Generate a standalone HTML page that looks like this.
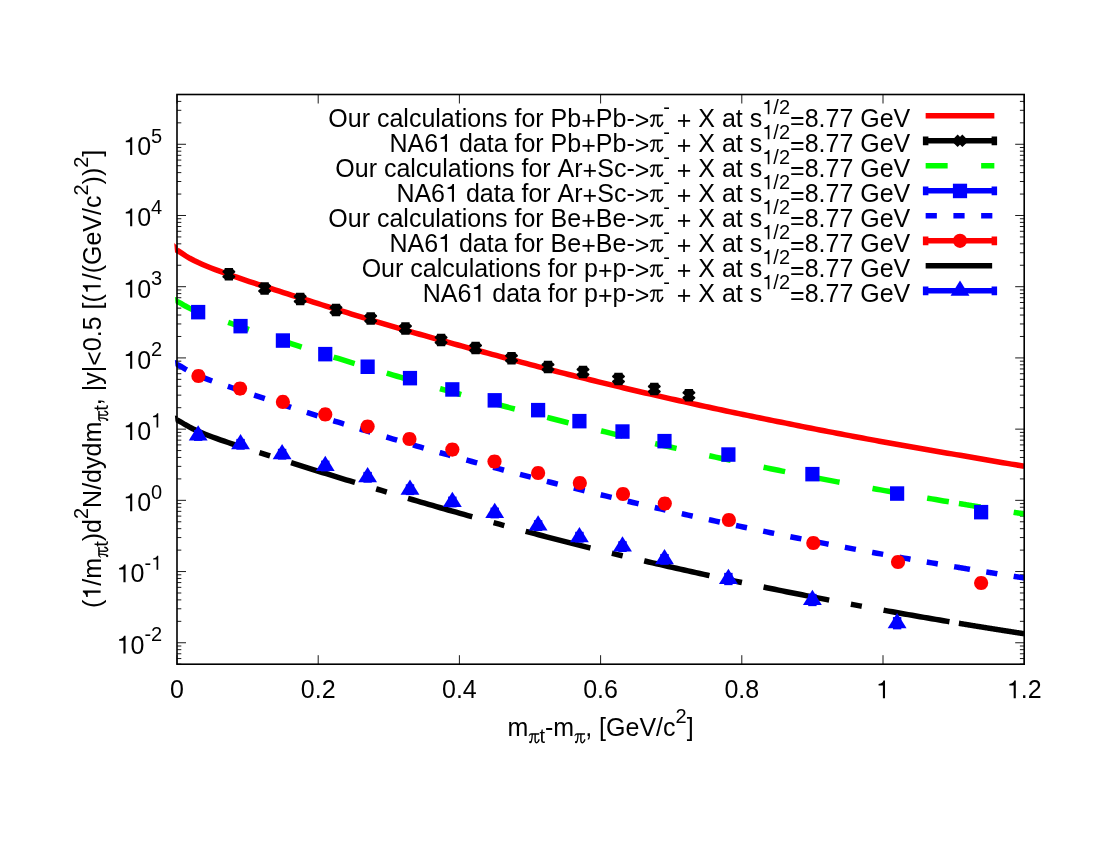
<!DOCTYPE html>
<html><head><meta charset="utf-8"><title>plot</title>
<style>html,body{margin:0;padding:0;background:#fff}svg{display:block;will-change:transform}text{font-kerning:none;font-family:"Liberation Sans",sans-serif;fill:#000}.sy{font-family:"Liberation Serif",serif}</style></head><body>
<svg width="1100" height="850" viewBox="0 0 1100 850">
<rect width="1100" height="850" fill="#fff"/>
<path d="M177.00,664.2V655.2M177.00,94.5V103.5M318.20,664.2V655.2M318.20,94.5V103.5M459.40,664.2V655.2M459.40,94.5V103.5M600.60,664.2V655.2M600.60,94.5V103.5M741.80,664.2V655.2M741.80,94.5V103.5M883.00,664.2V655.2M883.00,94.5V103.5M1024.20,664.2V655.2M1024.20,94.5V103.5M177.0,664.20H181.3M1024.2,664.20H1019.9000000000001M177.0,658.56H181.3M1024.2,658.56H1019.9000000000001M177.0,653.79H181.3M1024.2,653.79H1019.9000000000001M177.0,649.66H181.3M1024.2,649.66H1019.9000000000001M177.0,646.02H181.3M1024.2,646.02H1019.9000000000001M177.0,642.76H186.0M1024.2,642.76H1015.2M177.0,621.33H181.3M1024.2,621.33H1019.9000000000001M177.0,608.79H181.3M1024.2,608.79H1019.9000000000001M177.0,599.89H181.3M1024.2,599.89H1019.9000000000001M177.0,592.99H181.3M1024.2,592.99H1019.9000000000001M177.0,587.35H181.3M1024.2,587.35H1019.9000000000001M177.0,582.58H181.3M1024.2,582.58H1019.9000000000001M177.0,578.45H181.3M1024.2,578.45H1019.9000000000001M177.0,574.81H181.3M1024.2,574.81H1019.9000000000001M177.0,571.55H186.0M1024.2,571.55H1015.2M177.0,550.11H181.3M1024.2,550.11H1019.9000000000001M177.0,537.57H181.3M1024.2,537.57H1019.9000000000001M177.0,528.68H181.3M1024.2,528.68H1019.9000000000001M177.0,521.78H181.3M1024.2,521.78H1019.9000000000001M177.0,516.14H181.3M1024.2,516.14H1019.9000000000001M177.0,511.37H181.3M1024.2,511.37H1019.9000000000001M177.0,507.24H181.3M1024.2,507.24H1019.9000000000001M177.0,503.60H181.3M1024.2,503.60H1019.9000000000001M177.0,500.34H186.0M1024.2,500.34H1015.2M177.0,478.90H181.3M1024.2,478.90H1019.9000000000001M177.0,466.36H181.3M1024.2,466.36H1019.9000000000001M177.0,457.46H181.3M1024.2,457.46H1019.9000000000001M177.0,450.56H181.3M1024.2,450.56H1019.9000000000001M177.0,444.92H181.3M1024.2,444.92H1019.9000000000001M177.0,440.16H181.3M1024.2,440.16H1019.9000000000001M177.0,436.03H181.3M1024.2,436.03H1019.9000000000001M177.0,432.38H181.3M1024.2,432.38H1019.9000000000001M177.0,429.13H186.0M1024.2,429.13H1015.2M177.0,407.69H181.3M1024.2,407.69H1019.9000000000001M177.0,395.15H181.3M1024.2,395.15H1019.9000000000001M177.0,386.25H181.3M1024.2,386.25H1019.9000000000001M177.0,379.35H181.3M1024.2,379.35H1019.9000000000001M177.0,373.71H181.3M1024.2,373.71H1019.9000000000001M177.0,368.94H181.3M1024.2,368.94H1019.9000000000001M177.0,364.81H181.3M1024.2,364.81H1019.9000000000001M177.0,361.17H181.3M1024.2,361.17H1019.9000000000001M177.0,357.91H186.0M1024.2,357.91H1015.2M177.0,336.48H181.3M1024.2,336.48H1019.9000000000001M177.0,323.94H181.3M1024.2,323.94H1019.9000000000001M177.0,315.04H181.3M1024.2,315.04H1019.9000000000001M177.0,308.14H181.3M1024.2,308.14H1019.9000000000001M177.0,302.50H181.3M1024.2,302.50H1019.9000000000001M177.0,297.73H181.3M1024.2,297.73H1019.9000000000001M177.0,293.60H181.3M1024.2,293.60H1019.9000000000001M177.0,289.96H181.3M1024.2,289.96H1019.9000000000001M177.0,286.70H186.0M1024.2,286.70H1015.2M177.0,265.26H181.3M1024.2,265.26H1019.9000000000001M177.0,252.72H181.3M1024.2,252.72H1019.9000000000001M177.0,243.83H181.3M1024.2,243.83H1019.9000000000001M177.0,236.93H181.3M1024.2,236.93H1019.9000000000001M177.0,231.29H181.3M1024.2,231.29H1019.9000000000001M177.0,226.52H181.3M1024.2,226.52H1019.9000000000001M177.0,222.39H181.3M1024.2,222.39H1019.9000000000001M177.0,218.75H181.3M1024.2,218.75H1019.9000000000001M177.0,215.49H186.0M1024.2,215.49H1015.2M177.0,194.05H181.3M1024.2,194.05H1019.9000000000001M177.0,181.51H181.3M1024.2,181.51H1019.9000000000001M177.0,172.61H181.3M1024.2,172.61H1019.9000000000001M177.0,165.71H181.3M1024.2,165.71H1019.9000000000001M177.0,160.07H181.3M1024.2,160.07H1019.9000000000001M177.0,155.31H181.3M1024.2,155.31H1019.9000000000001M177.0,151.18H181.3M1024.2,151.18H1019.9000000000001M177.0,147.53H181.3M1024.2,147.53H1019.9000000000001M177.0,144.28H186.0M1024.2,144.28H1015.2M177.0,122.84H181.3M1024.2,122.84H1019.9000000000001M177.0,110.30H181.3M1024.2,110.30H1019.9000000000001M177.0,101.40H181.3M1024.2,101.40H1019.9000000000001M177.0,94.50H181.3M1024.2,94.50H1019.9000000000001" stroke="#000" stroke-width="0.9" fill="none"/>
<path d="M174.2,242.96L177.5,245.96L177.5,253.96L175.0,252.36Z" fill="#f00"/>
<path d="M177.00,250.16 L181.26,252.93 L185.51,255.77 L189.77,258.27 L194.03,260.51 L198.29,262.55 L202.54,264.45 L206.80,266.25 L211.06,267.96 L215.32,269.60 L219.57,271.19 L223.83,272.74 L228.09,274.25 L232.34,275.74 L236.60,277.21 L240.86,278.66 L245.12,280.09 L249.37,281.52 L253.63,282.93 L257.89,284.33 L262.15,285.72 L266.40,287.11 L270.66,288.49 L274.92,289.86 L279.17,291.23 L283.43,292.60 L287.69,293.96 L291.95,295.32 L296.20,296.68 L300.46,298.03 L304.72,299.38 L308.98,300.72 L313.23,302.07 L317.49,303.41 L321.75,304.75 L326.01,306.08 L330.26,307.42 L334.52,308.74 L338.78,310.07 L343.03,311.39 L347.29,312.70 L351.55,314.01 L355.81,315.32 L360.06,316.62 L364.32,317.92 L368.58,319.22 L372.84,320.51 L377.09,321.79 L381.35,323.07 L385.61,324.35 L389.86,325.62 L394.12,326.87 L398.38,328.11 L402.64,329.34 L406.89,330.57 L411.15,331.80 L415.41,333.02 L419.67,334.24 L423.92,335.45 L428.18,336.66 L432.44,337.86 L436.69,339.06 L440.95,340.26 L445.21,341.45 L449.47,342.63 L453.72,343.81 L457.98,344.99 L462.24,346.16 L466.50,347.33 L470.75,348.50 L475.01,349.66 L479.27,350.81 L483.52,351.98 L487.78,353.15 L492.04,354.31 L496.30,355.47 L500.55,356.62 L504.81,357.77 L509.07,358.92 L513.33,360.06 L517.58,361.20 L521.84,362.33 L526.10,363.46 L530.35,364.58 L534.61,365.70 L538.87,366.81 L543.13,367.92 L547.38,369.03 L551.64,370.13 L555.90,371.23 L560.16,372.32 L564.41,373.39 L568.67,374.46 L572.93,375.52 L577.18,376.58 L581.44,377.64 L585.70,378.69 L589.96,379.74 L594.21,380.78 L598.47,381.82 L602.73,382.85 L606.99,383.88 L611.24,384.91 L615.50,385.93 L619.76,386.94 L624.02,387.96 L628.27,388.96 L632.53,389.97 L636.79,390.97 L641.04,391.96 L645.30,392.95 L649.56,393.94 L653.82,394.92 L658.07,395.90 L662.33,396.88 L666.59,397.85 L670.85,398.81 L675.10,399.78 L679.36,400.73 L683.62,401.69 L687.87,402.64 L692.13,403.58 L696.39,404.53 L700.65,405.46 L704.90,406.38 L709.16,407.30 L713.42,408.22 L717.68,409.13 L721.93,410.03 L726.19,410.94 L730.45,411.84 L734.70,412.73 L738.96,413.62 L743.22,414.51 L747.48,415.39 L751.73,416.27 L755.99,417.14 L760.25,418.01 L764.51,418.88 L768.76,419.74 L773.02,420.60 L777.28,421.46 L781.53,422.31 L785.79,423.18 L790.05,424.03 L794.31,424.89 L798.56,425.74 L802.82,426.59 L807.08,427.43 L811.34,428.27 L815.59,429.11 L819.85,429.94 L824.11,430.77 L828.36,431.59 L832.62,432.41 L836.88,433.23 L841.14,434.04 L845.39,434.85 L849.65,435.66 L853.91,436.46 L858.17,437.26 L862.42,438.05 L866.68,438.84 L870.94,439.63 L875.19,440.41 L879.45,441.19 L883.71,441.97 L887.97,442.74 L892.22,443.51 L896.48,444.27 L900.74,445.03 L905.00,445.79 L909.25,446.55 L913.51,447.30 L917.77,448.04 L922.03,448.79 L926.28,449.53 L930.54,450.27 L934.80,451.00 L939.05,451.73 L943.31,452.45 L947.57,453.18 L951.83,453.90 L956.08,454.61 L960.34,455.33 L964.60,456.08 L968.86,456.83 L973.11,457.57 L977.37,458.31 L981.63,459.05 L985.88,459.78 L990.14,460.51 L994.40,461.24 L998.66,461.96 L1002.91,462.68 L1007.17,463.40 L1011.43,464.11 L1015.69,464.82 L1019.94,465.53 L1024.20,466.23" fill="none" stroke="#f00" stroke-width="5.5"/>
<path d="M232.95,267.90L233.15,269.25L235.25,271.15L235.25,272.25L232.85,274.15L235.25,276.05L235.25,277.15L233.15,279.05L232.95,280.40L224.75,280.40L224.55,279.05L222.45,277.15L222.45,276.05L224.85,274.15L222.45,272.25L222.45,271.15L224.55,269.25L224.75,267.90Z" fill="#000"/>
<path d="M268.70,282.25L268.90,283.60L271.00,285.50L271.00,286.60L268.60,288.50L271.00,290.40L271.00,291.50L268.90,293.40L268.70,294.75L260.50,294.75L260.30,293.40L258.20,291.50L258.20,290.40L260.60,288.50L258.20,286.60L258.20,285.50L260.30,283.60L260.50,282.25Z" fill="#000"/>
<path d="M304.30,292.65L304.50,294.00L306.60,295.90L306.60,297.00L304.20,298.90L306.60,300.80L306.60,301.90L304.50,303.80L304.30,305.15L296.10,305.15L295.90,303.80L293.80,301.90L293.80,300.80L296.20,298.90L293.80,297.00L293.80,295.90L295.90,294.00L296.10,292.65Z" fill="#000"/>
<path d="M340.10,303.75L340.30,305.10L342.40,307.00L342.40,308.10L340.00,310.00L342.40,311.90L342.40,313.00L340.30,314.90L340.10,316.25L331.90,316.25L331.70,314.90L329.60,313.00L329.60,311.90L332.00,310.00L329.60,308.10L329.60,307.00L331.70,305.10L331.90,303.75Z" fill="#000"/>
<path d="M374.80,312.25L375.00,313.60L377.10,315.50L377.10,316.60L374.70,318.50L377.10,320.40L377.10,321.50L375.00,323.40L374.80,324.75L366.60,324.75L366.40,323.40L364.30,321.50L364.30,320.40L366.70,318.50L364.30,316.60L364.30,315.50L366.40,313.60L366.60,312.25Z" fill="#000"/>
<path d="M409.55,322.35L409.75,323.70L411.85,325.60L411.85,326.70L409.45,328.60L411.85,330.50L411.85,331.60L409.75,333.50L409.55,334.85L401.35,334.85L401.15,333.50L399.05,331.60L399.05,330.50L401.45,328.60L399.05,326.70L399.05,325.60L401.15,323.70L401.35,322.35Z" fill="#000"/>
<path d="M445.20,333.75L445.40,335.10L447.50,337.00L447.50,338.10L445.10,340.00L447.50,341.90L447.50,343.00L445.40,344.90L445.20,346.25L437.00,346.25L436.80,344.90L434.70,343.00L434.70,341.90L437.10,340.00L434.70,338.10L434.70,337.00L436.80,335.10L437.00,333.75Z" fill="#000"/>
<path d="M479.70,341.75L479.90,343.10L482.00,345.00L482.00,346.10L479.60,348.00L482.00,349.90L482.00,351.00L479.90,352.90L479.70,354.25L471.50,354.25L471.30,352.90L469.20,351.00L469.20,349.90L471.60,348.00L469.20,346.10L469.20,345.00L471.30,343.10L471.50,341.75Z" fill="#000"/>
<path d="M515.60,351.95L515.80,353.30L517.90,355.20L517.90,356.30L515.50,358.20L517.90,360.10L517.90,361.20L515.80,363.10L515.60,364.45L507.40,364.45L507.20,363.10L505.10,361.20L505.10,360.10L507.50,358.20L505.10,356.30L505.10,355.20L507.20,353.30L507.40,351.95Z" fill="#000"/>
<path d="M552.10,360.85L552.30,362.20L554.40,364.10L554.40,365.20L552.00,367.10L554.40,369.00L554.40,370.10L552.30,372.00L552.10,373.35L543.90,373.35L543.70,372.00L541.60,370.10L541.60,369.00L544.00,367.10L541.60,365.20L541.60,364.10L543.70,362.20L543.90,360.85Z" fill="#000"/>
<path d="M587.10,365.75L587.30,367.10L589.40,369.00L589.40,370.10L587.00,372.00L589.40,373.90L589.40,375.00L587.30,376.90L587.10,378.25L578.90,378.25L578.70,376.90L576.60,375.00L576.60,373.90L579.00,372.00L576.60,370.10L576.60,369.00L578.70,367.10L578.90,365.75Z" fill="#000"/>
<path d="M622.60,372.75L622.80,374.10L624.90,376.00L624.90,377.10L622.50,379.00L624.90,380.90L624.90,382.00L622.80,383.90L622.60,385.25L614.40,385.25L614.20,383.90L612.10,382.00L612.10,380.90L614.50,379.00L612.10,377.10L612.10,376.00L614.20,374.10L614.40,372.75Z" fill="#000"/>
<path d="M658.40,382.75L658.60,384.10L660.70,386.00L660.70,387.10L658.30,389.00L660.70,390.90L660.70,392.00L658.60,393.90L658.40,395.25L650.20,395.25L650.00,393.90L647.90,392.00L647.90,390.90L650.30,389.00L647.90,387.10L647.90,386.00L650.00,384.10L650.20,382.75Z" fill="#000"/>
<path d="M693.00,389.00L693.20,390.35L695.30,392.25L695.30,393.35L692.90,395.25L695.30,397.15L695.30,398.25L693.20,400.15L693.00,401.50L684.80,401.50L684.60,400.15L682.50,398.25L682.50,397.15L684.90,395.25L682.50,393.35L682.50,392.25L684.60,390.35L684.80,389.00Z" fill="#000"/>
<path d="M174.9,297.06L177.5,297.76L177.5,304.76L175.5,302.96Z" fill="#0f0"/>
<path d="M177.00,301.36 L180.93,303.42 L184.86,305.78 L188.79,307.93 L192.72,309.84 L196.66,311.45 L200.59,312.94 L204.52,314.31 L208.45,315.77 L212.38,317.18 L216.31,318.54 L220.24,319.85 L224.17,321.13 L228.11,322.39 L232.04,323.76 L235.97,325.12 L239.90,326.46 L243.83,327.78 L247.76,329.10 L251.69,330.41 L255.62,331.72 L259.55,333.01 L263.49,334.30 L267.42,335.62 L271.35,336.94 L275.28,338.27 L279.21,339.59 L283.14,340.90 L287.07,342.21 L291.00,343.52 L294.93,344.82 L298.87,346.13 L302.80,347.40 L306.73,348.65 L310.66,349.89 L314.59,351.13 L318.52,352.36 L322.45,353.60 L326.38,354.82 L330.32,356.05 L334.25,357.27 L338.18,358.49 L342.11,359.71 L346.04,360.92 L349.97,362.13 L353.90,363.32 L357.83,364.52 L361.76,365.71 L365.70,366.90 L369.63,368.08 L373.56,369.26 L377.49,370.44 L381.42,371.61 L385.35,372.78 L389.28,373.94 L393.21,375.10 L397.14,376.26 L401.08,377.42 L405.01,378.57 L408.94,379.71 L412.87,380.86 L416.80,382.00 L420.73,383.13 L424.66,384.26 L428.59,385.39 L432.53,386.52 L436.46,387.64 L440.39,388.75 L444.32,389.86 L448.25,390.96 L452.18,392.06 L456.11,393.15 L460.04,394.24 L463.97,395.32 L467.91,396.41 L471.84,397.48 L475.77,398.56 L479.70,399.63 L483.63,400.70 L487.56,401.76 L491.49,402.82 L495.42,403.87 L499.35,404.93 L503.29,405.97 L507.22,407.02 L511.15,408.06 L515.08,409.10 L519.01,410.13 L522.94,411.16 L526.87,412.19 L530.80,413.21 L534.74,414.23 L538.67,415.24 L542.60,416.25 L546.53,417.26 L550.46,418.26 L554.39,419.26 L558.32,420.26 L562.25,421.25 L566.18,422.24 L570.12,423.22 L574.05,424.20 L577.98,425.18 L581.91,426.15 L585.84,427.12 L589.77,428.09 L593.70,429.05 L597.63,430.01 L601.56,430.97 L605.50,431.92 L609.43,432.87 L613.36,433.81 L617.29,434.75 L621.22,435.69 L625.15,436.62 L629.08,437.55 L633.01,438.48 L636.95,439.40 L640.88,440.32 L644.81,441.24 L648.74,442.15 L652.67,443.06 L656.60,443.96 L660.53,444.87 L664.46,445.76 L668.39,446.66 L672.33,447.55 L676.26,448.44 L680.19,449.32 L684.12,450.20 L688.05,451.08 L691.98,451.95 L695.91,452.82 L699.84,453.69 L703.77,454.55 L707.71,455.41 L711.64,456.26 L715.57,457.12 L719.50,457.97 L723.43,458.81 L727.36,459.65 L731.29,460.49 L735.22,461.33 L739.16,462.16 L743.09,462.99 L747.02,463.81 L750.95,464.63 L754.88,465.45 L758.81,466.27 L762.74,467.08 L766.67,467.89 L770.60,468.69 L774.54,469.49 L778.47,470.29 L782.40,471.09 L786.33,471.88 L790.26,472.67 L794.19,473.45 L798.12,474.23 L802.05,475.01 L805.98,475.79 L809.92,476.56 L813.85,477.33 L817.78,478.09 L821.71,478.85 L825.64,479.61 L829.57,480.37 L833.50,481.12 L837.43,481.87 L841.37,482.62 L845.30,483.36 L849.23,484.10 L853.16,484.83 L857.09,485.57 L861.02,486.30 L864.95,487.03 L868.88,487.75 L872.81,488.47 L876.75,489.19 L880.68,489.90 L884.61,490.61 L888.54,491.32 L892.47,492.03 L896.40,492.73 L900.33,493.43 L904.26,494.12 L908.19,494.82 L912.13,495.51 L916.06,496.19 L919.99,496.88 L923.92,497.56 L927.85,498.24 L931.78,498.91 L935.71,499.58 L939.64,500.25 L943.58,500.92 L947.51,501.58 L951.44,502.24 L955.37,502.90 L959.30,503.55" fill="none" stroke="#0f0" stroke-width="5.5" stroke-dasharray="22 33.5"/>
<path d="M958.90,503.49 L959.23,503.54 L959.56,503.59 L959.88,503.65 L960.21,503.70 L960.54,503.76 L960.87,503.81 L961.20,503.87 L961.53,503.92 L961.85,503.97 L962.18,504.03 L962.51,504.08 L962.84,504.14 L963.17,504.19 L963.49,504.25 L963.82,504.30 L964.15,504.35 L964.48,504.41 L964.81,504.46 L965.13,504.52 L965.46,504.57 L965.79,504.63 L966.12,504.68 L966.45,504.73 L966.78,504.79 L967.10,504.84 L967.43,504.90 L967.76,504.95 L968.09,505.00 L968.42,505.06 L968.74,505.11 L969.07,505.16 L969.40,505.22 L969.73,505.27 L970.06,505.33 L970.38,505.38 L970.71,505.43 L971.04,505.49 L971.37,505.54 L971.70,505.60 L972.03,505.65 L972.35,505.70 L972.68,505.76 L973.01,505.81 L973.34,505.86 L973.67,505.92 L973.99,505.97 L974.32,506.02 L974.65,506.08 L974.98,506.13 L975.31,506.18 L975.64,506.24 L975.96,506.29 L976.29,506.35 L976.62,506.40 L976.95,506.45 L977.28,506.51 L977.60,506.56 L977.93,506.61 L978.26,506.67 L978.59,506.72 L978.92,506.77 L979.24,506.83 L979.57,506.88 L979.90,506.93 L980.23,506.98 L980.56,507.04 L980.89,507.09 L981.21,507.14 L981.54,507.20 L981.87,507.25 L982.20,507.30 L982.53,507.36 L982.85,507.41 L983.18,507.46 L983.51,507.52 L983.84,507.57 L984.17,507.62 L984.49,507.67 L984.82,507.73 L985.15,507.78 L985.48,507.83 L985.81,507.89 L986.14,507.94 L986.46,507.99 L986.79,508.04 L987.12,508.10 L987.45,508.15 L987.78,508.20 L988.10,508.26 L988.43,508.31 L988.76,508.36 L989.09,508.41 L989.42,508.47 L989.75,508.52 L990.07,508.57 L990.40,508.62 L990.73,508.68 L991.06,508.73 L991.39,508.78 L991.71,508.83 L992.04,508.89 L992.37,508.94 L992.70,508.99 L993.03,509.04 L993.35,509.10 L993.68,509.15 L994.01,509.20 L994.34,509.25 L994.67,509.31 L995.00,509.36 L995.32,509.41 L995.65,509.46 L995.98,509.51 L996.31,509.57 L996.64,509.62 L996.96,509.67 L997.29,509.72 L997.62,509.78 L997.95,509.83 L998.28,509.88 L998.61,509.93 L998.93,509.98 L999.26,510.04 L999.59,510.09 L999.92,510.14 L1000.25,510.19 L1000.57,510.24 L1000.90,510.30 L1001.23,510.35 L1001.56,510.40 L1001.89,510.45 L1002.21,510.50 L1002.54,510.56 L1002.87,510.61 L1003.20,510.66 L1003.53,510.71 L1003.86,510.76 L1004.18,510.81 L1004.51,510.87 L1004.84,510.92 L1005.17,510.97 L1005.50,511.02 L1005.82,511.07 L1006.15,511.12 L1006.48,511.18 L1006.81,511.23 L1007.14,511.28 L1007.46,511.33 L1007.79,511.38 L1008.12,511.43 L1008.45,511.48 L1008.78,511.54 L1009.11,511.59 L1009.43,511.64 L1009.76,511.69 L1010.09,511.74 L1010.42,511.79 L1010.75,511.84 L1011.07,511.90 L1011.40,511.95 L1011.73,512.00 L1012.06,512.05 L1012.39,512.10 L1012.72,512.15 L1013.04,512.20 L1013.37,512.25 L1013.70,512.31 L1014.03,512.36 L1014.36,512.41 L1014.68,512.46 L1015.01,512.51 L1015.34,512.56 L1015.67,512.61 L1016.00,512.66 L1016.32,512.71 L1016.65,512.77 L1016.98,512.82 L1017.31,512.87 L1017.64,512.92 L1017.97,512.97 L1018.29,513.02 L1018.62,513.07 L1018.95,513.12 L1019.28,513.17 L1019.61,513.22 L1019.93,513.27 L1020.26,513.33 L1020.59,513.38 L1020.92,513.43 L1021.25,513.48 L1021.57,513.53 L1021.90,513.58 L1022.23,513.63 L1022.56,513.68 L1022.89,513.73 L1023.22,513.78 L1023.54,513.83 L1023.87,513.88 L1024.20,513.93" fill="none" stroke="#0f0" stroke-width="5.5" stroke-dasharray="22 33.5"/>
<rect x="191.08" y="304.90" width="14.2" height="14.5" fill="#00f"/>
<rect x="233.44" y="318.90" width="14.2" height="14.5" fill="#00f"/>
<rect x="275.80" y="333.30" width="14.2" height="14.5" fill="#00f"/>
<rect x="318.16" y="346.90" width="14.2" height="14.5" fill="#00f"/>
<rect x="360.52" y="359.50" width="14.2" height="14.5" fill="#00f"/>
<rect x="402.88" y="370.90" width="14.2" height="14.5" fill="#00f"/>
<rect x="445.24" y="382.20" width="14.2" height="14.5" fill="#00f"/>
<rect x="487.60" y="393.10" width="14.2" height="14.5" fill="#00f"/>
<rect x="531.02" y="402.90" width="14.2" height="14.5" fill="#00f"/>
<rect x="572.32" y="413.90" width="14.2" height="14.5" fill="#00f"/>
<rect x="615.39" y="424.30" width="14.2" height="14.5" fill="#00f"/>
<rect x="657.39" y="433.90" width="14.2" height="14.5" fill="#00f"/>
<rect x="721.29" y="447.30" width="14.2" height="14.5" fill="#00f"/>
<rect x="805.30" y="466.90" width="14.2" height="14.5" fill="#00f"/>
<rect x="890.02" y="486.30" width="14.2" height="14.5" fill="#00f"/>
<rect x="974.03" y="504.90" width="14.2" height="14.5" fill="#00f"/>
<path d="M174.9,360.06L177.5,360.76L177.5,367.76L175.5,365.96Z" fill="#00f"/>
<path d="M177.00,364.36 L180.93,366.45 L184.86,368.84 L188.79,371.01 L192.72,372.99 L196.66,374.80 L200.59,376.48 L204.52,378.08 L208.45,379.59 L212.38,381.04 L216.31,382.43 L220.24,383.78 L224.17,385.10 L228.11,386.39 L232.04,387.74 L235.97,389.07 L239.90,390.39 L243.83,391.70 L247.76,393.00 L251.69,394.28 L255.62,395.57 L259.55,396.84 L263.49,398.11 L267.42,399.42 L271.35,400.75 L275.28,402.07 L279.21,403.39 L283.14,404.71 L287.07,406.02 L291.00,407.33 L294.93,408.64 L298.87,409.94 L302.80,411.20 L306.73,412.44 L310.66,413.68 L314.59,414.91 L318.52,416.14 L322.45,417.36 L326.38,418.59 L330.32,419.81 L334.25,421.02 L338.18,422.23 L342.11,423.45 L346.04,424.67 L349.97,425.89 L353.90,427.10 L357.83,428.31 L361.76,429.52 L365.70,430.72 L369.63,431.92 L373.56,433.12 L377.49,434.31 L381.42,435.50 L385.35,436.68 L389.28,437.86 L393.21,439.04 L397.14,440.21 L401.08,441.38 L405.01,442.55 L408.94,443.71 L412.87,444.87 L416.80,446.03 L420.73,447.17 L424.66,448.30 L428.59,449.42 L432.53,450.53 L436.46,451.64 L440.39,452.75 L444.32,453.86 L448.25,454.96 L452.18,456.06 L456.11,457.15 L460.04,458.24 L463.97,459.32 L467.91,460.41 L471.84,461.48 L475.77,462.56 L479.70,463.63 L483.63,464.70 L487.56,465.76 L491.49,466.82 L495.42,467.87 L499.35,468.93 L503.29,469.97 L507.22,471.02 L511.15,472.06 L515.08,473.10 L519.01,474.13 L522.94,475.16 L526.87,476.19 L530.80,477.21 L534.74,478.23 L538.67,479.24 L542.60,480.25 L546.53,481.26 L550.46,482.26 L554.39,483.26 L558.32,484.26 L562.25,485.25 L566.18,486.24 L570.12,487.22 L574.05,488.20 L577.98,489.18 L581.91,490.15 L585.84,491.12 L589.77,492.09 L593.70,493.05 L597.63,494.01 L601.56,494.97 L605.50,495.92 L609.43,496.87 L613.36,497.81 L617.29,498.75 L621.22,499.69 L625.15,500.62 L629.08,501.55 L633.01,502.48 L636.95,503.40 L640.88,504.32 L644.81,505.24 L648.74,506.15 L652.67,507.06 L656.60,507.96 L660.53,508.87 L664.46,509.76 L668.39,510.66 L672.33,511.55 L676.26,512.44 L680.19,513.32 L684.12,514.20 L688.05,515.08 L691.98,515.95 L695.91,516.82 L699.84,517.69 L703.77,518.55 L707.71,519.41 L711.64,520.26 L715.57,521.12 L719.50,521.97 L723.43,522.81 L727.36,523.65 L731.29,524.49 L735.22,525.33 L739.16,526.16 L743.09,526.99 L747.02,527.81 L750.95,528.63 L754.88,529.45 L758.81,530.27 L762.74,531.08 L766.67,531.89 L770.60,532.69 L774.54,533.49 L778.47,534.29 L782.40,535.09 L786.33,535.88 L790.26,536.67 L794.19,537.45 L798.12,538.23 L802.05,539.01 L805.98,539.79 L809.92,540.56 L813.85,541.33 L817.78,542.09 L821.71,542.85 L825.64,543.61 L829.57,544.37 L833.50,545.12 L837.43,545.87 L841.37,546.62 L845.30,547.36 L849.23,548.10 L853.16,548.83 L857.09,549.57 L861.02,550.30 L864.95,551.03 L868.88,551.75 L872.81,552.47 L876.75,553.19 L880.68,553.90 L884.61,554.61 L888.54,555.32 L892.47,556.03 L896.40,556.73 L900.33,557.43 L904.26,558.12 L908.19,558.82 L912.13,559.51 L916.06,560.19 L919.99,560.88 L923.92,561.56 L927.85,562.24 L931.78,562.91 L935.71,563.58 L939.64,564.25 L943.58,564.92 L947.51,565.58 L951.44,566.24 L955.37,566.90 L959.30,567.55" fill="none" stroke="#00f" stroke-width="5.5" stroke-dasharray="11.2 16.55"/>
<path d="M958.90,567.49 L959.23,567.54 L959.56,567.59 L959.88,567.65 L960.21,567.70 L960.54,567.76 L960.87,567.81 L961.20,567.87 L961.53,567.92 L961.85,567.97 L962.18,568.03 L962.51,568.08 L962.84,568.14 L963.17,568.19 L963.49,568.25 L963.82,568.30 L964.15,568.35 L964.48,568.41 L964.81,568.46 L965.13,568.52 L965.46,568.57 L965.79,568.63 L966.12,568.68 L966.45,568.73 L966.78,568.79 L967.10,568.84 L967.43,568.90 L967.76,568.95 L968.09,569.00 L968.42,569.06 L968.74,569.11 L969.07,569.16 L969.40,569.22 L969.73,569.27 L970.06,569.33 L970.38,569.38 L970.71,569.43 L971.04,569.49 L971.37,569.54 L971.70,569.60 L972.03,569.65 L972.35,569.70 L972.68,569.76 L973.01,569.81 L973.34,569.86 L973.67,569.92 L973.99,569.97 L974.32,570.02 L974.65,570.08 L974.98,570.13 L975.31,570.18 L975.64,570.24 L975.96,570.29 L976.29,570.35 L976.62,570.40 L976.95,570.45 L977.28,570.51 L977.60,570.56 L977.93,570.61 L978.26,570.67 L978.59,570.72 L978.92,570.77 L979.24,570.83 L979.57,570.88 L979.90,570.93 L980.23,570.98 L980.56,571.04 L980.89,571.09 L981.21,571.14 L981.54,571.20 L981.87,571.25 L982.20,571.30 L982.53,571.36 L982.85,571.41 L983.18,571.46 L983.51,571.52 L983.84,571.57 L984.17,571.62 L984.49,571.67 L984.82,571.73 L985.15,571.78 L985.48,571.83 L985.81,571.89 L986.14,571.94 L986.46,571.99 L986.79,572.04 L987.12,572.10 L987.45,572.15 L987.78,572.20 L988.10,572.26 L988.43,572.31 L988.76,572.36 L989.09,572.41 L989.42,572.47 L989.75,572.52 L990.07,572.57 L990.40,572.62 L990.73,572.68 L991.06,572.73 L991.39,572.78 L991.71,572.83 L992.04,572.89 L992.37,572.94 L992.70,572.99 L993.03,573.04 L993.35,573.10 L993.68,573.15 L994.01,573.20 L994.34,573.25 L994.67,573.31 L995.00,573.36 L995.32,573.41 L995.65,573.46 L995.98,573.51 L996.31,573.57 L996.64,573.62 L996.96,573.67 L997.29,573.72 L997.62,573.78 L997.95,573.83 L998.28,573.88 L998.61,573.93 L998.93,573.98 L999.26,574.04 L999.59,574.09 L999.92,574.14 L1000.25,574.19 L1000.57,574.24 L1000.90,574.30 L1001.23,574.35 L1001.56,574.40 L1001.89,574.45 L1002.21,574.50 L1002.54,574.56 L1002.87,574.61 L1003.20,574.66 L1003.53,574.71 L1003.86,574.76 L1004.18,574.81 L1004.51,574.87 L1004.84,574.92 L1005.17,574.97 L1005.50,575.02 L1005.82,575.07 L1006.15,575.12 L1006.48,575.18 L1006.81,575.23 L1007.14,575.28 L1007.46,575.33 L1007.79,575.38 L1008.12,575.43 L1008.45,575.48 L1008.78,575.54 L1009.11,575.59 L1009.43,575.64 L1009.76,575.69 L1010.09,575.74 L1010.42,575.79 L1010.75,575.84 L1011.07,575.90 L1011.40,575.95 L1011.73,576.00 L1012.06,576.05 L1012.39,576.10 L1012.72,576.15 L1013.04,576.20 L1013.37,576.25 L1013.70,576.31 L1014.03,576.36 L1014.36,576.41 L1014.68,576.46 L1015.01,576.51 L1015.34,576.56 L1015.67,576.61 L1016.00,576.66 L1016.32,576.71 L1016.65,576.77 L1016.98,576.82 L1017.31,576.87 L1017.64,576.92 L1017.97,576.97 L1018.29,577.02 L1018.62,577.07 L1018.95,577.12 L1019.28,577.17 L1019.61,577.22 L1019.93,577.27 L1020.26,577.33 L1020.59,577.38 L1020.92,577.43 L1021.25,577.48 L1021.57,577.53 L1021.90,577.58 L1022.23,577.63 L1022.56,577.68 L1022.89,577.73 L1023.22,577.78 L1023.54,577.83 L1023.87,577.88 L1024.20,577.93" fill="none" stroke="#00f" stroke-width="5.5" stroke-dasharray="11.2 16.55"/>
<rect x="194.23" y="369.85" width="8.4" height="12.3" fill="#f00"/>
<circle cx="198.43" cy="376.00" r="7.1" fill="#f00"/>
<rect x="235.84" y="382.45" width="8.4" height="12.3" fill="#f00"/>
<circle cx="240.04" cy="388.60" r="7.1" fill="#f00"/>
<rect x="278.70" y="395.75" width="8.4" height="12.3" fill="#f00"/>
<circle cx="282.90" cy="401.90" r="7.1" fill="#f00"/>
<rect x="321.06" y="408.25" width="8.4" height="12.3" fill="#f00"/>
<circle cx="325.26" cy="414.40" r="7.1" fill="#f00"/>
<rect x="363.42" y="420.45" width="8.4" height="12.3" fill="#f00"/>
<circle cx="367.62" cy="426.60" r="7.1" fill="#f00"/>
<rect x="405.28" y="432.85" width="8.4" height="12.3" fill="#f00"/>
<circle cx="409.48" cy="439.00" r="7.1" fill="#f00"/>
<rect x="448.14" y="443.45" width="8.4" height="12.3" fill="#f00"/>
<circle cx="452.34" cy="449.60" r="7.1" fill="#f00"/>
<rect x="490.30" y="455.45" width="8.4" height="12.3" fill="#f00"/>
<circle cx="494.50" cy="461.60" r="7.1" fill="#f00"/>
<rect x="533.92" y="466.85" width="8.4" height="12.3" fill="#f00"/>
<circle cx="538.12" cy="473.00" r="7.1" fill="#f00"/>
<rect x="575.62" y="476.85" width="8.4" height="12.3" fill="#f00"/>
<circle cx="579.82" cy="483.00" r="7.1" fill="#f00"/>
<rect x="618.79" y="487.85" width="8.4" height="12.3" fill="#f00"/>
<circle cx="622.99" cy="494.00" r="7.1" fill="#f00"/>
<rect x="660.59" y="497.45" width="8.4" height="12.3" fill="#f00"/>
<circle cx="664.79" cy="503.60" r="7.1" fill="#f00"/>
<rect x="724.69" y="513.85" width="8.4" height="12.3" fill="#f00"/>
<circle cx="728.89" cy="520.00" r="7.1" fill="#f00"/>
<rect x="809.10" y="536.85" width="8.4" height="12.3" fill="#f00"/>
<circle cx="813.30" cy="543.00" r="7.1" fill="#f00"/>
<rect x="893.82" y="555.85" width="8.4" height="12.3" fill="#f00"/>
<circle cx="898.02" cy="562.00" r="7.1" fill="#f00"/>
<rect x="976.93" y="576.85" width="8.4" height="12.3" fill="#f00"/>
<circle cx="981.13" cy="583.00" r="7.1" fill="#f00"/>
<path d="M174.9,415.56L177.5,416.26L177.5,423.26L175.5,421.46Z" fill="#000"/>
<path d="M177.00,419.86 L180.93,422.01 L184.86,424.46 L188.79,426.68 L192.72,428.72 L196.66,430.58 L200.59,432.32 L204.52,433.96 L208.45,435.51 L212.38,436.99 L216.31,438.42 L220.24,439.81 L224.17,441.17 L228.11,442.50 L232.04,443.81 L235.97,445.09 L239.90,446.37 L243.83,447.63 L247.76,448.89 L251.69,450.13 L255.62,451.37 L259.55,452.60 L263.49,453.83 L267.42,455.08 L271.35,456.35 L275.28,457.61 L279.21,458.87 L283.14,460.13 L287.07,461.38 L291.00,462.63 L294.93,463.88 L298.87,465.12 L302.80,466.36 L306.73,467.59 L310.66,468.83 L314.59,470.06 L318.52,471.28 L322.45,472.50 L326.38,473.72 L330.32,474.94 L334.25,476.15 L338.18,477.36 L342.11,478.57 L346.04,479.77 L349.97,480.97 L353.90,482.16 L357.83,483.36 L361.76,484.54 L365.70,485.73 L369.63,486.91 L373.56,488.09 L377.49,489.26 L381.42,490.43 L385.35,491.60 L389.28,492.78 L393.21,493.95 L397.14,495.12 L401.08,496.29 L405.01,497.45 L408.94,498.61 L412.87,499.76 L416.80,500.91 L420.73,502.06 L424.66,503.21 L428.59,504.35 L432.53,505.48 L436.46,506.62 L440.39,507.74 L444.32,508.87 L448.25,509.99 L452.18,511.11 L456.11,512.22 L460.04,513.33 L463.97,514.44 L467.91,515.54 L471.84,516.64 L475.77,517.74 L479.70,518.83 L483.63,519.91 L487.56,521.00 L491.49,522.08 L495.42,523.15 L499.35,524.22 L503.29,525.29 L507.22,526.36 L511.15,527.42 L515.08,528.47 L519.01,529.53 L522.94,530.57 L526.87,531.62 L530.80,532.66 L534.74,533.70 L538.67,534.73 L542.60,535.76 L546.53,536.79 L550.46,537.81 L554.39,538.83 L558.32,539.85 L562.25,540.86 L566.18,541.87 L570.12,542.87 L574.05,543.87 L577.98,544.87 L581.91,545.86 L585.84,546.85 L589.77,547.84 L593.70,548.82 L597.63,549.80 L601.56,550.77 L605.50,551.72 L609.43,552.67 L613.36,553.61 L617.29,554.55 L621.22,555.49 L625.15,556.42 L629.08,557.35 L633.01,558.28 L636.95,559.20 L640.88,560.12 L644.81,561.04 L648.74,561.95 L652.67,562.86 L656.60,563.76 L660.53,564.67 L664.46,565.56 L668.39,566.46 L672.33,567.35 L676.26,568.24 L680.19,569.12 L684.12,570.00 L688.05,570.88 L691.98,571.75 L695.91,572.62 L699.84,573.49 L703.77,574.35 L707.71,575.21 L711.64,576.06 L715.57,576.92 L719.50,577.77 L723.43,578.61 L727.36,579.45 L731.29,580.29 L735.22,581.13 L739.16,581.96 L743.09,582.79 L747.02,583.61 L750.95,584.43 L754.88,585.25 L758.81,586.07 L762.74,586.88 L766.67,587.69 L770.60,588.49 L774.54,589.29 L778.47,590.09 L782.40,590.89 L786.33,591.68 L790.26,592.47 L794.19,593.25 L798.12,594.03 L802.05,594.81 L805.98,595.59 L809.92,596.36 L813.85,597.13 L817.78,597.89 L821.71,598.65 L825.64,599.41 L829.57,600.17 L833.50,600.92 L837.43,601.67 L841.37,602.42 L845.30,603.16 L849.23,603.90 L853.16,604.63 L857.09,605.37 L861.02,606.10 L864.95,606.83 L868.88,607.55 L872.81,608.27 L876.75,608.99 L880.68,609.70 L884.61,610.41 L888.54,611.12 L892.47,611.83 L896.40,612.53 L900.33,613.23 L904.26,613.92 L908.19,614.62 L912.13,615.31 L916.06,615.99 L919.99,616.68 L923.92,617.36 L927.85,618.04 L931.78,618.71 L935.71,619.38 L939.64,620.05 L943.58,620.72 L947.51,621.38 L951.44,622.04 L955.37,622.70 L959.30,623.35" fill="none" stroke="#000" stroke-width="5.5" stroke-dasharray="66.9 22.1 11.1 22.1"/>
<path d="M958.90,623.29 L959.23,623.34 L959.56,623.39 L959.88,623.45 L960.21,623.50 L960.54,623.56 L960.87,623.61 L961.20,623.67 L961.53,623.72 L961.85,623.77 L962.18,623.83 L962.51,623.88 L962.84,623.94 L963.17,623.99 L963.49,624.05 L963.82,624.10 L964.15,624.15 L964.48,624.21 L964.81,624.26 L965.13,624.32 L965.46,624.37 L965.79,624.43 L966.12,624.48 L966.45,624.53 L966.78,624.59 L967.10,624.64 L967.43,624.70 L967.76,624.75 L968.09,624.80 L968.42,624.86 L968.74,624.91 L969.07,624.96 L969.40,625.02 L969.73,625.07 L970.06,625.13 L970.38,625.18 L970.71,625.23 L971.04,625.29 L971.37,625.34 L971.70,625.40 L972.03,625.45 L972.35,625.50 L972.68,625.56 L973.01,625.61 L973.34,625.66 L973.67,625.72 L973.99,625.77 L974.32,625.82 L974.65,625.88 L974.98,625.93 L975.31,625.98 L975.64,626.04 L975.96,626.09 L976.29,626.15 L976.62,626.20 L976.95,626.25 L977.28,626.31 L977.60,626.36 L977.93,626.41 L978.26,626.47 L978.59,626.52 L978.92,626.57 L979.24,626.63 L979.57,626.68 L979.90,626.73 L980.23,626.78 L980.56,626.84 L980.89,626.89 L981.21,626.94 L981.54,627.00 L981.87,627.05 L982.20,627.10 L982.53,627.16 L982.85,627.21 L983.18,627.26 L983.51,627.32 L983.84,627.37 L984.17,627.42 L984.49,627.47 L984.82,627.53 L985.15,627.58 L985.48,627.63 L985.81,627.69 L986.14,627.74 L986.46,627.79 L986.79,627.84 L987.12,627.90 L987.45,627.95 L987.78,628.00 L988.10,628.06 L988.43,628.11 L988.76,628.16 L989.09,628.21 L989.42,628.27 L989.75,628.32 L990.07,628.37 L990.40,628.42 L990.73,628.48 L991.06,628.53 L991.39,628.58 L991.71,628.63 L992.04,628.69 L992.37,628.74 L992.70,628.79 L993.03,628.84 L993.35,628.90 L993.68,628.95 L994.01,629.00 L994.34,629.05 L994.67,629.11 L995.00,629.16 L995.32,629.21 L995.65,629.26 L995.98,629.31 L996.31,629.37 L996.64,629.42 L996.96,629.47 L997.29,629.52 L997.62,629.58 L997.95,629.63 L998.28,629.68 L998.61,629.73 L998.93,629.78 L999.26,629.84 L999.59,629.89 L999.92,629.94 L1000.25,629.99 L1000.57,630.04 L1000.90,630.10 L1001.23,630.15 L1001.56,630.20 L1001.89,630.25 L1002.21,630.30 L1002.54,630.36 L1002.87,630.41 L1003.20,630.46 L1003.53,630.51 L1003.86,630.56 L1004.18,630.61 L1004.51,630.67 L1004.84,630.72 L1005.17,630.77 L1005.50,630.82 L1005.82,630.87 L1006.15,630.92 L1006.48,630.98 L1006.81,631.03 L1007.14,631.08 L1007.46,631.13 L1007.79,631.18 L1008.12,631.23 L1008.45,631.28 L1008.78,631.34 L1009.11,631.39 L1009.43,631.44 L1009.76,631.49 L1010.09,631.54 L1010.42,631.59 L1010.75,631.64 L1011.07,631.70 L1011.40,631.75 L1011.73,631.80 L1012.06,631.85 L1012.39,631.90 L1012.72,631.95 L1013.04,632.00 L1013.37,632.05 L1013.70,632.11 L1014.03,632.16 L1014.36,632.21 L1014.68,632.26 L1015.01,632.31 L1015.34,632.36 L1015.67,632.41 L1016.00,632.46 L1016.32,632.51 L1016.65,632.57 L1016.98,632.62 L1017.31,632.67 L1017.64,632.72 L1017.97,632.77 L1018.29,632.82 L1018.62,632.87 L1018.95,632.92 L1019.28,632.97 L1019.61,633.02 L1019.93,633.07 L1020.26,633.13 L1020.59,633.18 L1020.92,633.23 L1021.25,633.28 L1021.57,633.33 L1021.90,633.38 L1022.23,633.43 L1022.56,633.48 L1022.89,633.53 L1023.22,633.58 L1023.54,633.63 L1023.87,633.68 L1024.20,633.73" fill="none" stroke="#000" stroke-width="5.5" stroke-dasharray="66.9 22.1 11.1 22.1"/>
<rect x="193.98" y="430.10" width="8.4" height="10.8" fill="#00f"/>
<path d="M198.18,425.20L207.63,440.45L188.73,440.45Z" fill="#00f"/>
<rect x="236.34" y="438.90" width="8.4" height="10.8" fill="#00f"/>
<path d="M240.54,434.00L249.99,449.25L231.09,449.25Z" fill="#00f"/>
<rect x="277.90" y="448.80" width="8.4" height="10.8" fill="#00f"/>
<path d="M282.10,443.90L291.55,459.15L272.65,459.15Z" fill="#00f"/>
<rect x="321.06" y="460.60" width="8.4" height="10.8" fill="#00f"/>
<path d="M325.26,455.70L334.71,470.95L315.81,470.95Z" fill="#00f"/>
<rect x="363.42" y="471.90" width="8.4" height="10.8" fill="#00f"/>
<path d="M367.62,467.00L377.07,482.25L358.17,482.25Z" fill="#00f"/>
<rect x="405.78" y="484.30" width="8.4" height="10.8" fill="#00f"/>
<path d="M409.98,479.40L419.43,494.65L400.53,494.65Z" fill="#00f"/>
<rect x="448.14" y="496.60" width="8.4" height="10.8" fill="#00f"/>
<path d="M452.34,491.70L461.79,506.95L442.89,506.95Z" fill="#00f"/>
<rect x="490.50" y="507.60" width="8.4" height="10.8" fill="#00f"/>
<path d="M494.70,502.70L504.15,517.95L485.25,517.95Z" fill="#00f"/>
<rect x="533.92" y="520.20" width="8.4" height="10.8" fill="#00f"/>
<path d="M538.12,515.30L547.57,530.55L528.67,530.55Z" fill="#00f"/>
<rect x="575.22" y="531.80" width="8.4" height="10.8" fill="#00f"/>
<path d="M579.42,526.90L588.87,542.15L569.97,542.15Z" fill="#00f"/>
<rect x="618.29" y="541.20" width="8.4" height="10.8" fill="#00f"/>
<path d="M622.49,536.30L631.94,551.55L613.04,551.55Z" fill="#00f"/>
<rect x="660.29" y="554.00" width="8.4" height="10.8" fill="#00f"/>
<path d="M664.49,549.10L673.94,564.35L655.04,564.35Z" fill="#00f"/>
<rect x="724.19" y="572.85" width="8.4" height="12.3" fill="#00f"/>
<path d="M728.39,568.70L737.84,583.95L718.94,583.95Z" fill="#00f"/>
<rect x="808.20" y="593.85" width="8.4" height="12.3" fill="#00f"/>
<path d="M812.40,589.70L821.85,604.95L802.95,604.95Z" fill="#00f"/>
<rect x="892.92" y="617.05" width="8.4" height="12.3" fill="#00f"/>
<path d="M897.12,612.90L906.57,628.15L887.67,628.15Z" fill="#00f"/>
<path d="M925.65,115.8L994.35,115.8" stroke="#f00" stroke-width="5.5" fill="none"/>
<path d="M925.65,140.8L994.35,140.8M925.65,136.45000000000002L925.65,145.15M994.35,136.45000000000002L994.35,145.15" stroke="#000" stroke-width="5.5" fill="none"/>
<path d="M955.70,136.50L964.30,145.10M955.70,145.10L964.30,136.50" stroke="#000" stroke-width="5.5" fill="none"/>
<path d="M925.65,165.8L994.35,165.8" stroke="#0f0" stroke-width="5.5" fill="none" stroke-dasharray="22 33.5"/>
<path d="M925.65,190.8L994.35,190.8M925.65,186.45000000000002L925.65,195.15M994.35,186.45000000000002L994.35,195.15" stroke="#00f" stroke-width="5.5" fill="none"/>
<rect x="952.90" y="183.70" width="14.2" height="14.5" fill="#00f"/>
<path d="M925.65,215.8L994.35,215.8" stroke="#00f" stroke-width="5.5" fill="none" stroke-dasharray="11.2 16.55"/>
<path d="M925.65,240.8L994.35,240.8M925.65,236.45000000000002L925.65,245.15M994.35,236.45000000000002L994.35,245.15" stroke="#f00" stroke-width="5.5" fill="none"/>
<circle cx="960.00" cy="240.80" r="7.1" fill="#f00"/>
<path d="M925.65,265.8L994.35,265.8" stroke="#000" stroke-width="5.5" fill="none" stroke-dasharray="66.5 22 11 22"/>
<path d="M925.65,290.8L994.35,290.8M925.65,286.45L925.65,295.15000000000003M994.35,286.45L994.35,295.15000000000003" stroke="#00f" stroke-width="5.5" fill="none"/>
<path d="M960.00,280.50L969.45,295.75L950.55,295.75Z" fill="#00f"/>
<g><text id="t1" x="910.30" y="126.80" font-size="25" text-anchor="end">Our calculations for Pb<tspan dy="2.20">+</tspan><tspan dy="-2.20">Pb-</tspan><tspan dy="2.20">&gt;</tspan><tspan font-size="20" dx="13.800" dy="-14.70">-</tspan><tspan dy="12.50"> </tspan><tspan dy="2.20">+</tspan><tspan dy="-2.20"> X at s</tspan><tspan font-size="20" dx="11.123" dy="-12.50">/2</tspan><tspan dy="14.70">=</tspan><tspan dy="-2.20">8.77 GeV</tspan></text><g transform="translate(649.33,126.80) scale(0.0250,-0.0250)"><path d="M8,368C45,458 85,495 140,495L545,495L536,418L150,418C100,418 65,400 42,345Z"/><path d="M192,440C190,330 185,200 150,100C135,60 115,45 97,45" fill="none" stroke="#000" stroke-width="64" stroke-linecap="round"/><circle cx="95" cy="48" r="58"/><path d="M337,440L333,160C333,40 390,-5 440,30C485,60 515,110 532,165" fill="none" stroke="#000" stroke-width="70" stroke-linecap="round"/></g><g transform="translate(762.24,114.30) scale(0.0200,-0.0200)"><path d="M359,0L359,709L296,709C280,640 225,590 101,572L101,512L274,512L274,0Z"/></g></g>
<g><text id="t2" x="910.30" y="151.80" font-size="25" text-anchor="end">NA6<tspan dx="13.904"> data for Pb</tspan><tspan dy="2.20">+</tspan><tspan dy="-2.20">Pb-</tspan><tspan dy="2.20">&gt;</tspan><tspan font-size="20" dx="13.800" dy="-14.70">-</tspan><tspan dy="12.50"> </tspan><tspan dy="2.20">+</tspan><tspan dy="-2.20"> X at s</tspan><tspan font-size="20" dx="11.123" dy="-12.50">/2</tspan><tspan dy="14.70">=</tspan><tspan dy="-2.20">8.77 GeV</tspan></text><g transform="translate(438.04,151.80) scale(0.0250,-0.0250)"><path d="M359,0L359,709L296,709C280,640 225,590 101,572L101,512L274,512L274,0Z"/></g><g transform="translate(649.33,151.80) scale(0.0250,-0.0250)"><path d="M8,368C45,458 85,495 140,495L545,495L536,418L150,418C100,418 65,400 42,345Z"/><path d="M192,440C190,330 185,200 150,100C135,60 115,45 97,45" fill="none" stroke="#000" stroke-width="64" stroke-linecap="round"/><circle cx="95" cy="48" r="58"/><path d="M337,440L333,160C333,40 390,-5 440,30C485,60 515,110 532,165" fill="none" stroke="#000" stroke-width="70" stroke-linecap="round"/></g><g transform="translate(762.24,139.30) scale(0.0200,-0.0200)"><path d="M359,0L359,709L296,709C280,640 225,590 101,572L101,512L274,512L274,0Z"/></g></g>
<g><text id="t3" x="910.30" y="176.80" font-size="25" text-anchor="end">Our calculations for Ar<tspan dy="2.20">+</tspan><tspan dy="-2.20">Sc-</tspan><tspan dy="2.20">&gt;</tspan><tspan font-size="20" dx="13.800" dy="-14.70">-</tspan><tspan dy="12.50"> </tspan><tspan dy="2.20">+</tspan><tspan dy="-2.20"> X at s</tspan><tspan font-size="20" dx="11.123" dy="-12.50">/2</tspan><tspan dy="14.70">=</tspan><tspan dy="-2.20">8.77 GeV</tspan></text><g transform="translate(649.33,176.80) scale(0.0250,-0.0250)"><path d="M8,368C45,458 85,495 140,495L545,495L536,418L150,418C100,418 65,400 42,345Z"/><path d="M192,440C190,330 185,200 150,100C135,60 115,45 97,45" fill="none" stroke="#000" stroke-width="64" stroke-linecap="round"/><circle cx="95" cy="48" r="58"/><path d="M337,440L333,160C333,40 390,-5 440,30C485,60 515,110 532,165" fill="none" stroke="#000" stroke-width="70" stroke-linecap="round"/></g><g transform="translate(762.24,164.30) scale(0.0200,-0.0200)"><path d="M359,0L359,709L296,709C280,640 225,590 101,572L101,512L274,512L274,0Z"/></g></g>
<g><text id="t4" x="910.30" y="201.80" font-size="25" text-anchor="end">NA6<tspan dx="13.904"> data for Ar</tspan><tspan dy="2.20">+</tspan><tspan dy="-2.20">Sc-</tspan><tspan dy="2.20">&gt;</tspan><tspan font-size="20" dx="13.800" dy="-14.70">-</tspan><tspan dy="12.50"> </tspan><tspan dy="2.20">+</tspan><tspan dy="-2.20"> X at s</tspan><tspan font-size="20" dx="11.123" dy="-12.50">/2</tspan><tspan dy="14.70">=</tspan><tspan dy="-2.20">8.77 GeV</tspan></text><g transform="translate(445.03,201.80) scale(0.0250,-0.0250)"><path d="M359,0L359,709L296,709C280,640 225,590 101,572L101,512L274,512L274,0Z"/></g><g transform="translate(649.33,201.80) scale(0.0250,-0.0250)"><path d="M8,368C45,458 85,495 140,495L545,495L536,418L150,418C100,418 65,400 42,345Z"/><path d="M192,440C190,330 185,200 150,100C135,60 115,45 97,45" fill="none" stroke="#000" stroke-width="64" stroke-linecap="round"/><circle cx="95" cy="48" r="58"/><path d="M337,440L333,160C333,40 390,-5 440,30C485,60 515,110 532,165" fill="none" stroke="#000" stroke-width="70" stroke-linecap="round"/></g><g transform="translate(762.24,189.30) scale(0.0200,-0.0200)"><path d="M359,0L359,709L296,709C280,640 225,590 101,572L101,512L274,512L274,0Z"/></g></g>
<g><text id="t5" x="910.30" y="226.80" font-size="25" text-anchor="end">Our calculations for Be<tspan dy="2.20">+</tspan><tspan dy="-2.20">Be-</tspan><tspan dy="2.20">&gt;</tspan><tspan font-size="20" dx="13.800" dy="-14.70">-</tspan><tspan dy="12.50"> </tspan><tspan dy="2.20">+</tspan><tspan dy="-2.20"> X at s</tspan><tspan font-size="20" dx="11.123" dy="-12.50">/2</tspan><tspan dy="14.70">=</tspan><tspan dy="-2.20">8.77 GeV</tspan></text><g transform="translate(649.33,226.80) scale(0.0250,-0.0250)"><path d="M8,368C45,458 85,495 140,495L545,495L536,418L150,418C100,418 65,400 42,345Z"/><path d="M192,440C190,330 185,200 150,100C135,60 115,45 97,45" fill="none" stroke="#000" stroke-width="64" stroke-linecap="round"/><circle cx="95" cy="48" r="58"/><path d="M337,440L333,160C333,40 390,-5 440,30C485,60 515,110 532,165" fill="none" stroke="#000" stroke-width="70" stroke-linecap="round"/></g><g transform="translate(762.24,214.30) scale(0.0200,-0.0200)"><path d="M359,0L359,709L296,709C280,640 225,590 101,572L101,512L274,512L274,0Z"/></g></g>
<g><text id="t6" x="910.30" y="251.80" font-size="25" text-anchor="end">NA6<tspan dx="13.904"> data for Be</tspan><tspan dy="2.20">+</tspan><tspan dy="-2.20">Be-</tspan><tspan dy="2.20">&gt;</tspan><tspan font-size="20" dx="13.800" dy="-14.70">-</tspan><tspan dy="12.50"> </tspan><tspan dy="2.20">+</tspan><tspan dy="-2.20"> X at s</tspan><tspan font-size="20" dx="11.123" dy="-12.50">/2</tspan><tspan dy="14.70">=</tspan><tspan dy="-2.20">8.77 GeV</tspan></text><g transform="translate(438.04,251.80) scale(0.0250,-0.0250)"><path d="M359,0L359,709L296,709C280,640 225,590 101,572L101,512L274,512L274,0Z"/></g><g transform="translate(649.33,251.80) scale(0.0250,-0.0250)"><path d="M8,368C45,458 85,495 140,495L545,495L536,418L150,418C100,418 65,400 42,345Z"/><path d="M192,440C190,330 185,200 150,100C135,60 115,45 97,45" fill="none" stroke="#000" stroke-width="64" stroke-linecap="round"/><circle cx="95" cy="48" r="58"/><path d="M337,440L333,160C333,40 390,-5 440,30C485,60 515,110 532,165" fill="none" stroke="#000" stroke-width="70" stroke-linecap="round"/></g><g transform="translate(762.24,239.30) scale(0.0200,-0.0200)"><path d="M359,0L359,709L296,709C280,640 225,590 101,572L101,512L274,512L274,0Z"/></g></g>
<g><text id="t7" x="910.30" y="276.80" font-size="25" text-anchor="end">Our calculations for p<tspan dy="2.20">+</tspan><tspan dy="-2.20">p-</tspan><tspan dy="2.20">&gt;</tspan><tspan font-size="20" dx="13.800" dy="-14.70">-</tspan><tspan dy="12.50"> </tspan><tspan dy="2.20">+</tspan><tspan dy="-2.20"> X at s</tspan><tspan font-size="20" dx="11.123" dy="-12.50">/2</tspan><tspan dy="14.70">=</tspan><tspan dy="-2.20">8.77 GeV</tspan></text><g transform="translate(649.33,276.80) scale(0.0250,-0.0250)"><path d="M8,368C45,458 85,495 140,495L545,495L536,418L150,418C100,418 65,400 42,345Z"/><path d="M192,440C190,330 185,200 150,100C135,60 115,45 97,45" fill="none" stroke="#000" stroke-width="64" stroke-linecap="round"/><circle cx="95" cy="48" r="58"/><path d="M337,440L333,160C333,40 390,-5 440,30C485,60 515,110 532,165" fill="none" stroke="#000" stroke-width="70" stroke-linecap="round"/></g><g transform="translate(762.24,264.30) scale(0.0200,-0.0200)"><path d="M359,0L359,709L296,709C280,640 225,590 101,572L101,512L274,512L274,0Z"/></g></g>
<g><text id="t8" x="910.30" y="301.80" font-size="25" text-anchor="end">NA6<tspan dx="13.904"> data for p</tspan><tspan dy="2.20">+</tspan><tspan dy="-2.20">p-</tspan><tspan dy="2.20">&gt;</tspan><tspan font-size="20" dx="13.800" dy="-14.70">-</tspan><tspan dy="12.50"> </tspan><tspan dy="2.20">+</tspan><tspan dy="-2.20"> X at s</tspan><tspan font-size="20" dx="11.123" dy="-12.50">/2</tspan><tspan dy="14.70">=</tspan><tspan dy="-2.20">8.77 GeV</tspan></text><g transform="translate(471.39,301.80) scale(0.0250,-0.0250)"><path d="M359,0L359,709L296,709C280,640 225,590 101,572L101,512L274,512L274,0Z"/></g><g transform="translate(649.33,301.80) scale(0.0250,-0.0250)"><path d="M8,368C45,458 85,495 140,495L545,495L536,418L150,418C100,418 65,400 42,345Z"/><path d="M192,440C190,330 185,200 150,100C135,60 115,45 97,45" fill="none" stroke="#000" stroke-width="64" stroke-linecap="round"/><circle cx="95" cy="48" r="58"/><path d="M337,440L333,160C333,40 390,-5 440,30C485,60 515,110 532,165" fill="none" stroke="#000" stroke-width="70" stroke-linecap="round"/></g><g transform="translate(762.24,289.30) scale(0.0200,-0.0200)"><path d="M359,0L359,709L296,709C280,640 225,590 101,572L101,512L274,512L274,0Z"/></g></g>
<rect x="177.0" y="94.5" width="847.2" height="569.7" fill="none" stroke="#000" stroke-width="1.6"/>
<g><text id="t9" x="177.00" y="698.3" font-size="25" text-anchor="middle">0</text></g>
<g><text id="t10" x="318.20" y="698.3" font-size="25" text-anchor="middle">0.2</text></g>
<g><text id="t11" x="459.40" y="698.3" font-size="25" text-anchor="middle">0.4</text></g>
<g><text id="t12" x="600.60" y="698.3" font-size="25" text-anchor="middle">0.6</text></g>
<g><text id="t13" x="741.80" y="698.3" font-size="25" text-anchor="middle">0.8</text></g>
<g><g transform="translate(876.05,698.30) scale(0.0250,-0.0250)"><path d="M359,0L359,709L296,709C280,640 225,590 101,572L101,512L274,512L274,0Z"/></g></g>
<g><text id="t15" x="1031.15" y="698.3" font-size="25" text-anchor="middle">.2</text><g transform="translate(1006.82,698.30) scale(0.0250,-0.0250)"><path d="M359,0L359,709L296,709C280,640 225,590 101,572L101,512L274,512L274,0Z"/></g></g>
<g><text id="t16" x="162.20" y="653.56" font-size="25" text-anchor="end">0<tspan font-size="20" dy="-12.50">-2</tspan></text><g transform="translate(116.59,653.56) scale(0.0250,-0.0250)"><path d="M359,0L359,709L296,709C280,640 225,590 101,572L101,512L274,512L274,0Z"/></g></g>
<g><text id="t17" x="151.08" y="582.35" font-size="25" text-anchor="end">0<tspan font-size="20" dy="-12.50">-</tspan></text><g transform="translate(116.59,582.35) scale(0.0250,-0.0250)"><path d="M359,0L359,709L296,709C280,640 225,590 101,572L101,512L274,512L274,0Z"/></g><g transform="translate(151.07,569.85) scale(0.0200,-0.0200)"><path d="M359,0L359,709L296,709C280,640 225,590 101,572L101,512L274,512L274,0Z"/></g></g>
<g><text id="t18" x="162.20" y="511.14" font-size="25" text-anchor="end">0<tspan font-size="20" dy="-12.50">0</tspan></text><g transform="translate(123.26,511.14) scale(0.0250,-0.0250)"><path d="M359,0L359,709L296,709C280,640 225,590 101,572L101,512L274,512L274,0Z"/></g></g>
<g><text id="t19" x="151.08" y="439.93" font-size="25" text-anchor="end">0</text><g transform="translate(123.26,439.93) scale(0.0250,-0.0250)"><path d="M359,0L359,709L296,709C280,640 225,590 101,572L101,512L274,512L274,0Z"/></g><g transform="translate(151.07,427.43) scale(0.0200,-0.0200)"><path d="M359,0L359,709L296,709C280,640 225,590 101,572L101,512L274,512L274,0Z"/></g></g>
<g><text id="t20" x="162.20" y="368.71" font-size="25" text-anchor="end">0<tspan font-size="20" dy="-12.50">2</tspan></text><g transform="translate(123.26,368.71) scale(0.0250,-0.0250)"><path d="M359,0L359,709L296,709C280,640 225,590 101,572L101,512L274,512L274,0Z"/></g></g>
<g><text id="t21" x="162.20" y="297.50" font-size="25" text-anchor="end">0<tspan font-size="20" dy="-12.50">3</tspan></text><g transform="translate(123.26,297.50) scale(0.0250,-0.0250)"><path d="M359,0L359,709L296,709C280,640 225,590 101,572L101,512L274,512L274,0Z"/></g></g>
<g><text id="t22" x="162.20" y="226.29" font-size="25" text-anchor="end">0<tspan font-size="20" dy="-12.50">4</tspan></text><g transform="translate(123.26,226.29) scale(0.0250,-0.0250)"><path d="M359,0L359,709L296,709C280,640 225,590 101,572L101,512L274,512L274,0Z"/></g></g>
<g><text id="t23" x="162.20" y="155.08" font-size="25" text-anchor="end">0<tspan font-size="20" dy="-12.50">5</tspan></text><g transform="translate(123.26,155.08) scale(0.0250,-0.0250)"><path d="M359,0L359,709L296,709C280,640 225,590 101,572L101,512L274,512L274,0Z"/></g></g>
<g><text id="t24" x="600.60" y="735.6" font-size="25" text-anchor="middle">m<tspan font-size="20" dx="11.040" dy="7.50">t</tspan><tspan dy="-7.50">-m</tspan><tspan dx="11.040">, [GeV/c</tspan><tspan font-size="20" dy="-12.50">2</tspan><tspan dy="12.50">]</tspan></text><g transform="translate(528.41,743.10) scale(0.0200,-0.0200)"><path d="M8,368C45,458 85,495 140,495L545,495L536,418L150,418C100,418 65,400 42,345Z"/><path d="M192,440C190,330 185,200 150,100C135,60 115,45 97,45" fill="none" stroke="#000" stroke-width="64" stroke-linecap="round"/><circle cx="95" cy="48" r="58"/><path d="M337,440L333,160C333,40 390,-5 440,30C485,60 515,110 532,165" fill="none" stroke="#000" stroke-width="70" stroke-linecap="round"/></g><g transform="translate(574.18,743.10) scale(0.0200,-0.0200)"><path d="M8,368C45,458 85,495 140,495L545,495L536,418L150,418C100,418 65,400 42,345Z"/><path d="M192,440C190,330 185,200 150,100C135,60 115,45 97,45" fill="none" stroke="#000" stroke-width="64" stroke-linecap="round"/><circle cx="95" cy="48" r="58"/><path d="M337,440L333,160C333,40 390,-5 440,30C485,60 515,110 532,165" fill="none" stroke="#000" stroke-width="70" stroke-linecap="round"/></g></g>
<g transform="translate(100.6,378.8) rotate(-90)"><text id="t25" x="0.00" y="0" font-size="25" text-anchor="middle">(<tspan dx="13.904">/m</tspan><tspan font-size="20" dx="11.040" dy="7.50">t</tspan><tspan dy="-7.50">)d</tspan><tspan font-size="20" dy="-12.50">2</tspan><tspan dy="12.50">N/dydm</tspan><tspan font-size="20" dx="11.040" dy="7.50">t</tspan><tspan dy="-7.50">, |y|</tspan><tspan dy="2.20">&lt;</tspan><tspan dy="-2.20">0.5 [(</tspan><tspan dx="13.904">/(GeV/c</tspan><tspan font-size="20" dy="-12.50">2</tspan><tspan dy="12.50">))</tspan><tspan font-size="20" dy="-12.50">2</tspan><tspan dy="12.50">]</tspan></text><g transform="translate(-220.79,0.00) scale(0.0250,-0.0250)"><path d="M359,0L359,709L296,709C280,640 225,590 101,572L101,512L274,512L274,0Z"/></g><g transform="translate(-179.11,7.50) scale(0.0200,-0.0200)"><path d="M8,368C45,458 85,495 140,495L545,495L536,418L150,418C100,418 65,400 42,345Z"/><path d="M192,440C190,330 185,200 150,100C135,60 115,45 97,45" fill="none" stroke="#000" stroke-width="64" stroke-linecap="round"/><circle cx="95" cy="48" r="58"/><path d="M337,440L333,160C333,40 390,-5 440,30C485,60 515,110 532,165" fill="none" stroke="#000" stroke-width="70" stroke-linecap="round"/></g><g transform="translate(-42.99,7.50) scale(0.0200,-0.0200)"><path d="M8,368C45,458 85,495 140,495L545,495L536,418L150,418C100,418 65,400 42,345Z"/><path d="M192,440C190,330 185,200 150,100C135,60 115,45 97,45" fill="none" stroke="#000" stroke-width="64" stroke-linecap="round"/><circle cx="95" cy="48" r="58"/><path d="M337,440L333,160C333,40 390,-5 440,30C485,60 515,110 532,165" fill="none" stroke="#000" stroke-width="70" stroke-linecap="round"/></g><g transform="translate(84.61,0.00) scale(0.0250,-0.0250)"><path d="M359,0L359,709L296,709C280,640 225,590 101,572L101,512L274,512L274,0Z"/></g></g>
</svg></body></html>
